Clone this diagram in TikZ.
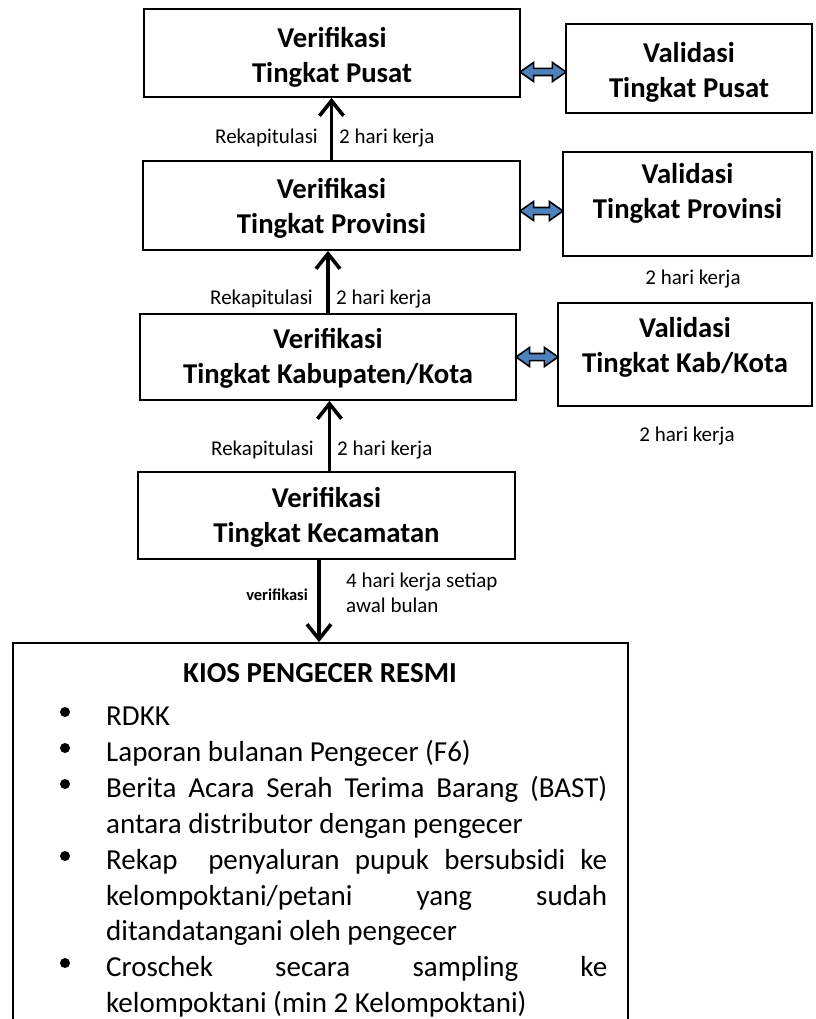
\documentclass[tikz,border=0pt]{standalone}
\usepackage{fontspec}
\setmainfont{Carlito}
\usetikzlibrary{arrows.meta,shapes.arrows}
\definecolor{arrowblue}{RGB}{79,129,189}

\begin{document}
\begin{tikzpicture}[x=1pt,y=1pt,
  vbox/.style={draw=black, line width=1.8pt},
  boxtext/.style={font=\bfseries\fontsize{28.7}{35}\selectfont, align=center},
  lbl/.style={font=\fontsize{21}{25}\selectfont},
  uparrow/.style={line width=3.6pt, -{Straight Barb[length=15pt,width=24pt]}},
  dblarrow/.style={double arrow, draw=black, line width=1.6pt, fill=arrowblue,
    double arrow head extend=6pt, double arrow tip angle=70},
  listtext/.style={font=\fontsize{29}{35}\selectfont, anchor=base west},
  dot/.style={circle, fill=black, minimum size=10pt}]
\tikzstyle{every node}+=[inner sep=0pt]
\useasboundingbox (0,0) rectangle (815,-1019);

% verifikasi
\node [vbox, minimum width=376pt, minimum height=88pt] (vpusat) at (332,-53) {};
\node [boxtext] (tvpusat) at ([yshift=-4.5pt]vpusat.center) {Verifikasi\\Tingkat Pusat};
\node [vbox, minimum width=377pt, minimum height=89pt] (vprov) at (331.5,-205.5) {};
\node [boxtext] (tvprov) at ([yshift=-3pt]vprov.center) {Verifikasi\\Tingkat Provinsi};
\node [vbox, minimum width=376pt, minimum height=86pt] (vkab) at (328,-357) {};
\node [boxtext] (tvkab) at ([yshift=-1.5pt]vkab.center) {Verifikasi\\Tingkat Kabupaten/Kota};
\node [vbox, minimum width=377pt, minimum height=87pt] (vkec) at (326.5,-515.5) {};
\node [boxtext] (tvkec) at ([yshift=-1.5pt]vkec.center) {Verifikasi\\Tingkat Kecamatan};

% validasi
\node [vbox, minimum width=246pt, minimum height=89pt] (valpusat) at (689,-68.5) {};
\node [boxtext] (tvalpusat) at ([yshift=-4pt]valpusat.center) {Validasi\\Tingkat Pusat};
\node [vbox, minimum width=249pt, minimum height=104pt] (valprov) at (687.5,-204) {};
\node [boxtext] (tvalprov) at ([yshift=10.5pt]valprov.center) {Validasi\\Tingkat Provinsi};
\node [vbox, minimum width=254pt, minimum height=103pt] (valkab) at (685,-354.5) {};
\node [boxtext] (tvalkab) at ([yshift=7pt]valkab.center) {Validasi\\Tingkat Kab/Kota};

% double arrows
\node [dblarrow, minimum height=46pt] (dpusat) at (543,-72) {\rule{0pt}{5.5pt}};
\node [dblarrow, minimum height=43pt] (dprov) at (541.5,-211) {\rule{0pt}{5.5pt}};
\node [dblarrow, minimum height=42pt] (dkab) at (537,-357) {\rule{0pt}{5.5pt}};

% rekapitulasi arrows
\draw [uparrow] (vprov.north) -- (vprov.north |- vpusat.south);
\node [lbl, anchor=base east] (rek1) at (318,-144) {Rekapitulasi};
\node [lbl, anchor=base west] (hari1) at (339,-144) {2 hari kerja};
\draw [uparrow] (vkab.north) -- (vkab.north |- vprov.south);
\node [lbl, anchor=base east] (rek2) at (313,-304) {Rekapitulasi};
\node [lbl, anchor=base west] (hari2) at (336,-304) {2 hari kerja};
\draw [uparrow] ([xshift=3pt]vkec.north) -- ([xshift=3pt]vkec.north |- vkab.south);
\node [lbl, anchor=base east] (rek3) at (314,-455) {Rekapitulasi};
\node [lbl, anchor=base west] (hari3) at (337,-455) {2 hari kerja};

\node [lbl, anchor=base] (hariprov) at (693,-284) {2 hari kerja};
\node [lbl, anchor=base] (harikab) at (687,-441) {2 hari kerja};

% kios
\node [vbox, minimum width=615pt, minimum height=400pt] (kios) at (320.5,-843) {};
\draw [uparrow] ([xshift=-7.5pt]vkec.south) -- ([xshift=-7.5pt]vkec.south |- kios.north);
\node [font=\bfseries\fontsize{16.5}{19}\selectfont, anchor=base east] (verif) at (308,-600) {verifikasi};
\node [lbl, anchor=base west] (empat1) at (346,-587) {4 hari kerja setiap};
\node [lbl, anchor=base west] (empat2) at (346,-612) {awal bulan};

\node [font=\bfseries\fontsize{29}{35}\selectfont, anchor=base] (judul) at (320,-682) {KIOS PENGECER RESMI};
\node [dot] (b1) at (65,-712) {};
\node [listtext] (l1) at (106,-725) {RDKK};
\node [dot] (b2) at (65,-748) {};
\node [listtext] (l2) at (106,-761) {Laporan bulanan Pengecer (F6)};
\node [dot] (b3) at (65,-784) {};
\node [listtext] (l3) at (106,-797) {\makebox[501pt][s]{Berita Acara Serah Terima Barang (BAST)}};
\node [listtext] (l3b) at (106,-833) {antara distributor dengan pengecer};
\node [dot] (b4) at (65,-856) {};
\node [listtext] (l4) at (106,-869) {\makebox[501pt][s]{Rekap\ \ penyaluran pupuk bersubsidi ke}};
\node [listtext] (l4b) at (106,-905) {\makebox[501pt][s]{kelompoktani/petani yang sudah}};
\node [listtext] (l4c) at (106,-940) {ditandatangani oleh pengecer};
\node [dot] (b5) at (65,-963) {};
\node [listtext] (l5) at (106,-976) {\makebox[501pt][s]{Croschek secara sampling ke}};
\node [listtext] (l5b) at (106,-1012) {kelompoktani (min 2 Kelompoktani)};
\end{tikzpicture}
\end{document}
